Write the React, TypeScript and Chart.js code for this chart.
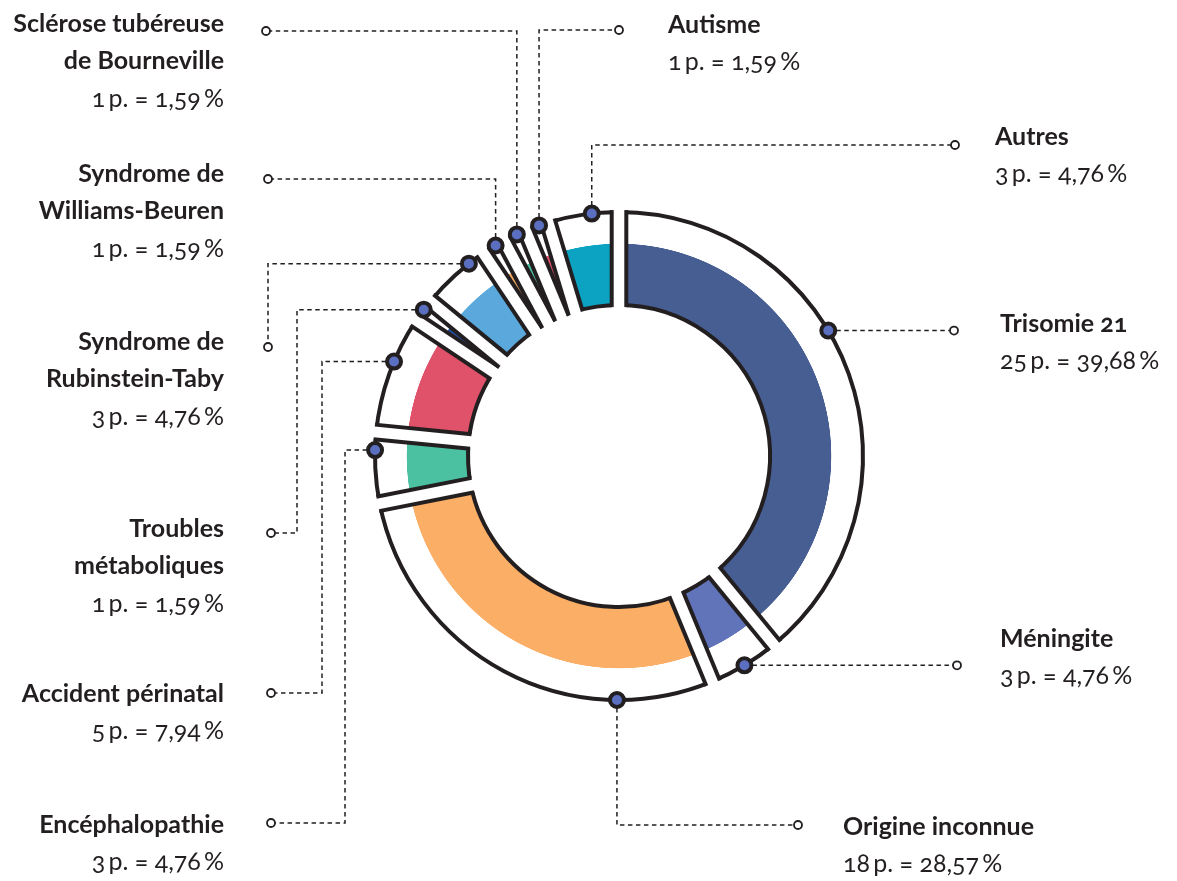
import React, { useEffect, useRef } from 'react';
import { Chart, registerables } from 'chart.js';

Chart.register(...registerables);

// ---------- data ----------
const categories = [
  'Trisomie 21',
  'Méningite',
  'Origine inconnue',
  'Encéphalopathie',
  'Accident périnatal',
  'Troubles métaboliques',
  'Syndrome de Rubinstein-Taby',
  'Syndrome de Williams-Beuren',
  'Sclérose tubéreuse de Bourneville',
  'Autisme',
  'Autres',
];
const nameLines = [
  ['Trisomie 21'],
  ['Méningite'],
  ['Origine inconnue'],
  ['Encéphalopathie'],
  ['Accident périnatal'],
  ['Troubles', 'métaboliques'],
  ['Syndrome de', 'Rubinstein-Taby'],
  ['Syndrome de', 'Williams-Beuren'],
  ['Sclérose tubéreuse', 'de Bourneville'],
  ['Autisme'],
  ['Autres'],
];
const patients = [25, 3, 18, 3, 5, 1, 3, 1, 1, 1, 3];
const percentLabels = ['39,68', '4,76', '28,57', '4,76', '7,94', '1,59', '4,76', '1,59', '1,59', '1,59', '4,76'];
const sliceColors = [
  '#465e91',
  '#6173b9',
  '#fbae66',
  '#4bc1a1',
  '#e0526a',
  '#1f4e9e',
  '#5ba9dc',
  '#f6a95f',
  '#4bc1a1',
  '#e0526a',
  '#0ca3c3',
];

// ---------- layout / style ----------
const W = 1177;
const H = 881;
const OUTER_R = 244;
const INNER_R = 151;
const COLOR_R = 212;
const GAP_HALF = 7.3; // distance from slice boundary to centre of the outline edge
const EDGE_W = 4;
const INK = '#231f20';
const DOT = '#5a6fc0';

const markerFrac = [0.42, 0.5, 0.227, 0.75, 0.61, 0.55, 0.75, 0.6, 0.6, 0.6, 0.62];

type Leader =
  | { kind: 'h'; x: number }
  | { kind: 'vh'; y: number; x: number }
  | { kind: 'hv'; x: number; y: number }
  | { kind: 'hvh'; x1: number; y: number; x2: number };

const leaders: Leader[] = [
  { kind: 'h', x: 954 },
  { kind: 'h', x: 957 },
  { kind: 'vh', y: 825, x: 798 },
  { kind: 'hvh', x1: 345, y: 823, x2: 271 },
  { kind: 'hvh', x1: 322, y: 693, x2: 271 },
  { kind: 'hvh', x1: 297, y: 533, x2: 271 },
  { kind: 'hv', x: 268, y: 347 },
  { kind: 'vh', y: 179, x: 268 },
  { kind: 'vh', y: 31, x: 266 },
  { kind: 'vh', y: 30, x: 619 },
  { kind: 'vh', y: 145, x: 955 },
];

// label blocks: side, anchor x, first baseline
const labelPos = [
  { side: 'right', x: 1000, base: 332 },
  { side: 'right', x: 1000, base: 647 },
  { side: 'right', x: 843, base: 835 },
  { side: 'left', x: 224, base: 833 },
  { side: 'left', x: 224, base: 702 },
  { side: 'left', x: 224, base: 537 },
  { side: 'left', x: 224, base: 350 },
  { side: 'left', x: 224, base: 182 },
  { side: 'left', x: 224, base: 32 },
  { side: 'right', x: 668, base: 33 },
  { side: 'right', x: 995, base: 145 },
];

const FONT = 'Lato, "Noto Sans", sans-serif';
const FONT_SIZE = 25;
const LINE_H = 37.5;
const BASE_OFFSET = 28.4;

// separates the slices with constant-width gaps drawn along each slice boundary
const gapPlugin = {
  id: 'gaps',
  afterDatasetsDraw(chart: any) {
    const ctx = chart.ctx as CanvasRenderingContext2D;
    const meta = chart.getDatasetMeta(0);
    meta.data.forEach((el: any) => {
      const p = el.getProps(['x', 'y', 'startAngle', 'outerRadius', 'innerRadius'], true);
      const th = p.startAngle;
      const ux = Math.cos(th);
      const uy = Math.sin(th);
      const nx = -uy;
      const ny = ux;
      const rin = p.innerRadius;
      const rout = p.outerRadius;
      const d = GAP_HALF;
      const t0 = rin - EDGE_W;
      const t1 = rout + EDGE_W;
      ctx.save();
      ctx.fillStyle = '#ffffff';
      ctx.beginPath();
      ctx.moveTo(p.x + ux * t0 + nx * d, p.y + uy * t0 + ny * d);
      ctx.lineTo(p.x + ux * t1 + nx * d, p.y + uy * t1 + ny * d);
      ctx.lineTo(p.x + ux * t1 - nx * d, p.y + uy * t1 - ny * d);
      ctx.lineTo(p.x + ux * t0 - nx * d, p.y + uy * t0 - ny * d);
      ctx.closePath();
      ctx.fill();
      ctx.strokeStyle = INK;
      ctx.lineWidth = EDGE_W;
      ctx.lineCap = 'butt';
      [d, -d].forEach((s) => {
        const si = Math.abs(s) - EDGE_W / 2;
        const a0 = Math.sqrt(Math.max((rin - EDGE_W / 2) ** 2 - si * si, 0));
        const a1 = Math.sqrt((rout + EDGE_W / 2) ** 2 - si * si);
        ctx.beginPath();
        ctx.moveTo(p.x + ux * a0 + nx * s, p.y + uy * a0 + ny * s);
        ctx.lineTo(p.x + ux * a1 + nx * s, p.y + uy * a1 + ny * s);
        ctx.stroke();
      });
      ctx.restore();
    });
  },
};

const leaderPlugin = {
  id: 'leaders',
  afterDatasetsDraw(chart: any) {
    const ctx = chart.ctx as CanvasRenderingContext2D;
    const meta = chart.getDatasetMeta(0);
    meta.data.forEach((el: any, i: number) => {
      const p = el.getProps(['x', 'y', 'startAngle', 'endAngle', 'outerRadius'], true);
      const a = p.startAngle + markerFrac[i] * (p.endAngle - p.startAngle);
      const r = p.outerRadius;
      const mx = p.x + Math.cos(a) * r;
      const my = p.y + Math.sin(a) * r;
      const L = leaders[i];
      const pts: [number, number][] = [[mx, my]];
      if (L.kind === 'h') pts.push([L.x, my]);
      else if (L.kind === 'vh') pts.push([mx, L.y], [L.x, L.y]);
      else if (L.kind === 'hv') pts.push([L.x, my], [L.x, L.y]);
      else pts.push([L.x1, my], [L.x1, L.y], [L.x2, L.y]);
      ctx.save();
      ctx.strokeStyle = INK;
      ctx.lineWidth = 1.5;
      ctx.setLineDash([4.5, 3.5]);
      ctx.beginPath();
      pts.forEach(([x, y], k) => (k === 0 ? ctx.moveTo(x, y) : ctx.lineTo(x, y)));
      ctx.stroke();
      ctx.setLineDash([]);
      const end = pts[pts.length - 1];
      ctx.beginPath();
      ctx.arc(end[0], end[1], 4, 0, Math.PI * 2);
      ctx.fillStyle = '#fff';
      ctx.fill();
      ctx.lineWidth = 1.8;
      ctx.stroke();
      ctx.beginPath();
      ctx.arc(mx, my, 7, 0, Math.PI * 2);
      ctx.fillStyle = DOT;
      ctx.fill();
      ctx.lineWidth = 4;
      ctx.strokeStyle = INK;
      ctx.stroke();
      ctx.restore();
    });
  },
};

export default function App() {
  const canvasRef = useRef<HTMLCanvasElement | null>(null);

  useEffect(() => {
    const canvas = canvasRef.current;
    if (!canvas) return;
    const chart = new Chart(canvas, {
      type: 'doughnut',
      data: {
        labels: categories,
        datasets: [
          {
            data: patients,
            backgroundColor: (c: any) => {
              const ca = c.chart.chartArea;
              const col = sliceColors[c.dataIndex] || '#fff';
              if (!ca) return col;
              const cx = (ca.left + ca.right) / 2;
              const cy = (ca.top + ca.bottom) / 2;
              const R = 300;
              const g = c.chart.ctx.createRadialGradient(cx, cy, 0, cx, cy, R);
              g.addColorStop(0, col);
              g.addColorStop(COLOR_R / R, col);
              g.addColorStop(COLOR_R / R + 0.002, '#ffffff');
              g.addColorStop(1, '#ffffff');
              return g;
            },
            borderColor: INK,
            borderWidth: EDGE_W,
            borderJoinStyle: 'miter',
          } as any,
        ],
      },
      options: {
        responsive: false,
        maintainAspectRatio: false,
        animation: false,
        events: [],
        radius: OUTER_R,
        cutout: ((INNER_R / OUTER_R) * 100).toFixed(3) + '%',
        layout: { padding: { left: 61, top: 31, right: 0, bottom: 0 } },
        plugins: {
          legend: { display: false },
          tooltip: { enabled: false },
          title: { display: false },
        },
      } as any,
      plugins: [gapPlugin, leaderPlugin],
    });
    return () => chart.destroy();
  }, []);

  return (
    <div style={{ position: 'absolute', left: 0, top: 0, width: W, height: H, background: '#fff', overflow: 'hidden' }}>
      <canvas ref={canvasRef} width={W} height={H} style={{ position: 'absolute', left: 0, top: 0, width: W, height: H }} />
      {categories.map((cat, i) => {
        const pos = labelPos[i];
        const lines = nameLines[i];
        const top = pos.base - BASE_OFFSET;
        const style: React.CSSProperties = {
          position: 'absolute',
          top,
          fontFamily: FONT,
          fontSize: FONT_SIZE,
          lineHeight: LINE_H + 'px',
          color: INK,
          whiteSpace: 'nowrap',
          fontVariantNumeric: 'oldstyle-nums',
        };
        if (pos.side === 'left') {
          style.right = W - pos.x;
          style.textAlign = 'right';
        } else {
          style.left = pos.x;
          style.textAlign = 'left';
        }
        return (
          <div key={cat} style={style}>
            {lines.map((ln) => (
              <div key={ln} style={{ fontWeight: 700 }}>{ln}</div>
            ))}
            <div style={{ fontWeight: 400 }}>
              {patients[i]}{'\u2009'}p. = {percentLabels[i]}{'\u2009'}%
            </div>
          </div>
        );
      })}
    </div>
  );
}
